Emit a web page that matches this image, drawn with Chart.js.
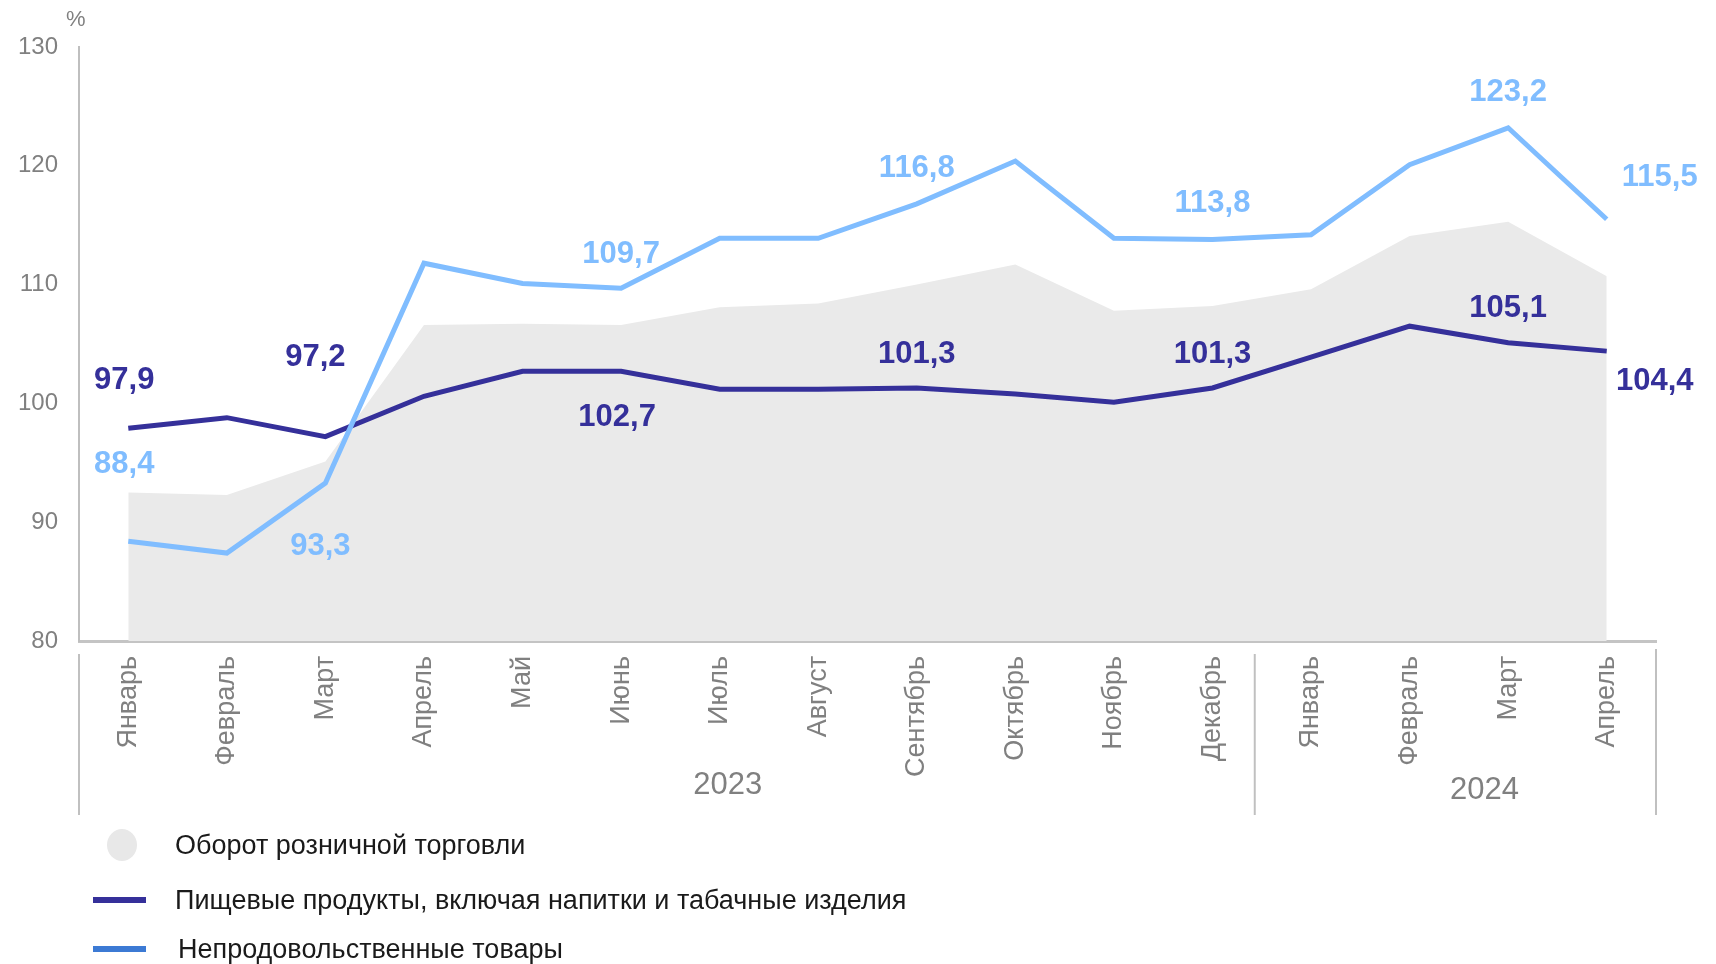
<!DOCTYPE html>
<html lang="ru">
<head>
<meta charset="utf-8">
<script src="https://cdn.jsdelivr.net/npm/chart.js@4.4.1/dist/chart.umd.min.js"></script>
<style>
  body { margin: 0; background: #fff; font-family: "Liberation Sans", Arial, sans-serif; }
  #wrap { position: relative; width: 1716px; height: 964px; }
  #unit { position: absolute; left: 66px; top: 6px; font-size: 22px; color: #808080; }
  .leg { position: absolute; left: 0; height: 40px; width: 1000px; font-size: 27px; color: #1a1a1a; }
  .leg span.txt { position: absolute; left: 175px; top: 50%; transform: translateY(-50%); white-space: nowrap; }
  .leg .mk { position: absolute; }
</style>
</head>
<body>
<div id="wrap">
  <canvas id="chart"></canvas>
  <div id="unit">%</div>
  <div class="leg" style="top:825px"><div class="mk" style="left:107px;top:4px;width:30px;height:32px;border-radius:50%;background:#e8e8e8"></div><span class="txt">Оборот розничной торговли</span></div>
  <div class="leg" style="top:880px"><div class="mk" style="left:93px;top:17px;width:53px;height:6px;background:#35309a"></div><span class="txt">Пищевые продукты, включая напитки и табачные изделия</span></div>
  <div class="leg" style="top:929px"><div class="mk" style="left:93px;top:17px;width:53px;height:6px;background:#3c7ad4"></div><span class="txt" style="left:178px">Непродовольственные товары</span></div>
</div>
<script>
const months = ['Январь', 'Февраль', 'Март', 'Апрель', 'Май', 'Июнь', 'Июль', 'Август', 'Сентябрь', 'Октябрь', 'Ноябрь', 'Декабрь', 'Январь', 'Февраль', 'Март', 'Апрель'];
const years = ['2023', '2024'];
const retail = [92.5, 92.3, 95.1, 106.6, 106.7, 106.6, 108.1, 108.4, 110.0, 111.7, 107.8, 108.2, 109.6, 114.1, 115.3, 110.7];
const food = [97.9, 98.8, 97.2, 100.6, 102.7, 102.7, 101.2, 101.2, 101.3, 100.8, 100.1, 101.3, 103.9, 106.5, 105.1, 104.4];
const nonFood = [88.4, 87.4, 93.3, 111.8, 110.1, 109.7, 113.9, 113.9, 116.8, 120.4, 113.9, 113.8, 114.2, 120.1, 123.2, 115.5];
const yTicks = [80, 90, 100, 110, 120, 130];

// which points get a value label: [index, dx, dy]
const foodLabels = [[0, -4, -48], [2, -10, -79], [5, -4, 46], [8, 0, -34], [11, 0, -34], [14, 0, -34], [15, 48, 30]];
const nonFoodLabels = [[0, -4, -77], [2, -5, 63], [5, 0, -34], [8, 0, -35], [11, 0, -36], [14, 0, -35], [15, 53, -42]];

const FONT = '"Liberation Sans", Arial, sans-serif';

const valueLabels = {
    id: 'valueLabels',
    afterDatasetsDraw(chart) {
        const ctx = chart.ctx;
        ctx.save();
        ctx.font = 'bold 31px ' + FONT;
        ctx.textAlign = 'center';
        ctx.textBaseline = 'middle';
        chart.data.datasets.forEach((ds, i) => {
            if (!ds.valueLabels) return;
            const meta = chart.getDatasetMeta(i);
            ctx.fillStyle = ds.borderColor;
            ds.valueLabels.forEach(([idx, dx, dy]) => {
                const pt = meta.data[idx];
                const txt = ds.data[idx].toFixed(1).replace('.', ',');
                ctx.fillText(txt, pt.x + dx, pt.y + dy);
            });
        });
        ctx.restore();
    }
};

const yearAxis = {
    id: 'yearAxis',
    afterDraw(chart) {
        const ctx = chart.ctx;
        const x = chart.scales.x;
        const area = chart.chartArea;
        const split = (x.getPixelForValue(11) + x.getPixelForValue(12)) / 2 - 7;
        ctx.save();
        ctx.strokeStyle = '#c0c0c0';
        ctx.lineWidth = 2;
        [[area.left, 654], [split, 654], [area.right, 649]].forEach(([px, top]) => {
            ctx.beginPath();
            ctx.moveTo(px, top);
            ctx.lineTo(px, 815);
            ctx.stroke();
        });
        ctx.fillStyle = '#808080';
        ctx.font = '31px ' + FONT;
        ctx.textAlign = 'center';
        ctx.textBaseline = 'middle';
        ctx.fillText(years[0], x.getPixelForValue(6) + 8, 785);
        ctx.fillText(years[1], x.getPixelForValue(13) + 75, 790);
        ctx.restore();
    }
};

new Chart(document.getElementById('chart'), {
    type: 'line',
    data: {
        labels: months,
        datasets: [
            {
                label: 'Непродовольственные товары',
                data: nonFood,
                borderColor: '#80bdff',
                borderWidth: 5,
                pointRadius: 0,
                fill: false,
                order: 1,
                valueLabels: nonFoodLabels
            },
            {
                label: 'Пищевые продукты, включая напитки и табачные изделия',
                data: food,
                borderColor: '#35309a',
                borderWidth: 5,
                pointRadius: 0,
                fill: false,
                order: 2,
                valueLabels: foodLabels
            },
            {
                label: 'Оборот розничной торговли',
                data: retail,
                borderWidth: 0,
                borderColor: 'rgba(0,0,0,0)',
                backgroundColor: '#eaeaea',
                pointRadius: 0,
                fill: 'start',
                order: 3
            }
        ]
    },
    options: {
        responsive: true,
        maintainAspectRatio: false,
        animation: false,
        layout: { padding: { top: 47, right: 60, bottom: 139, left: 0 } },
        plugins: {
            legend: { display: false },
            tooltip: { enabled: false }
        },
        scales: {
            x: {
                offset: true,
                grid: { display: false, drawTicks: false },
                border: { display: true, color: '#c4c4c4', width: 3 },
                ticks: {
                    autoSkip: false,
                    minRotation: 90,
                    maxRotation: 90,
                    padding: 15,
                    color: '#808080',
                    font: { family: FONT, size: 27 }
                },
                afterFit(scale) { scale.height = 184; }
            },
            y: {
                min: 80,
                max: 130,
                afterBuildTicks(scale) { scale.ticks = yTicks.map(v => ({ value: v })); },
                grid: { display: false, drawTicks: false },
                border: { display: true, color: '#bfbfbf', width: 2 },
                ticks: {
                    padding: 21,
                    color: '#808080',
                    font: { family: FONT, size: 24 }
                },
                afterFit(scale) { scale.width = 79; }
            }
        }
    },
    plugins: [valueLabels, yearAxis]
});
</script>
</body>
</html>
